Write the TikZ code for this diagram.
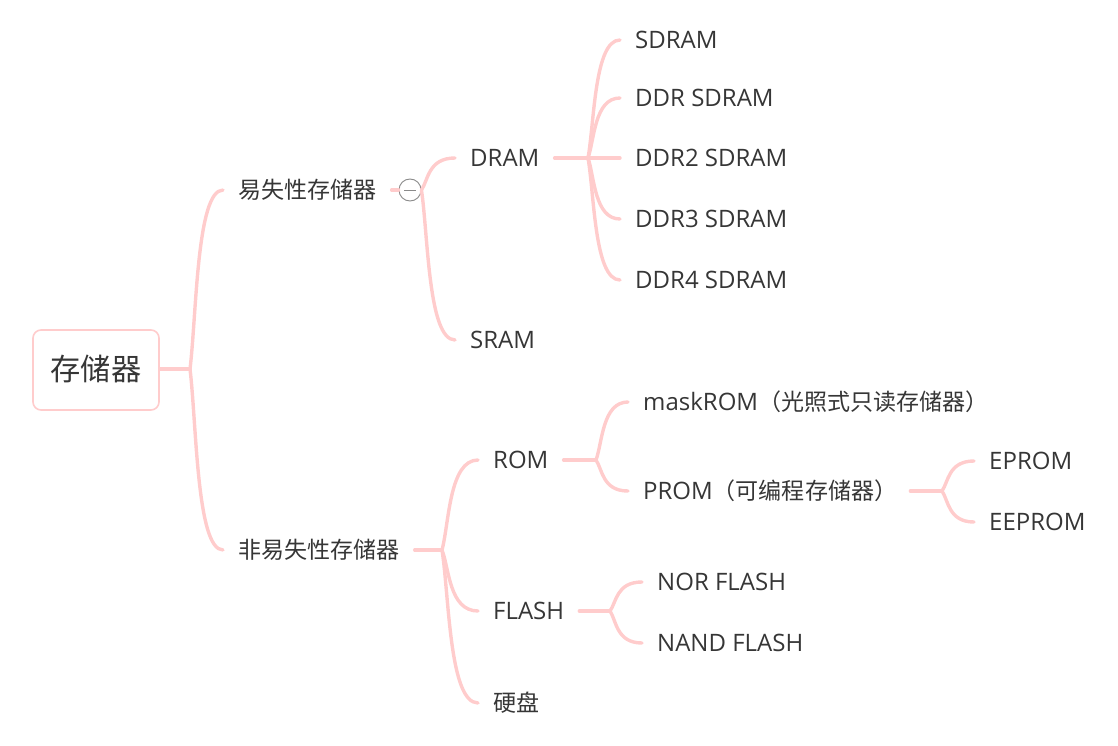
\documentclass[tikz,border=0pt]{standalone}
\usepackage{fontspec}
\setmainfont{Open Sans}
\newfontfamily\cjk{Noto Sans CJK SC}[Scale=0.96]
\usetikzlibrary{calc}
\definecolor{lnk}{HTML}{FFCCCC}
\definecolor{txt}{HTML}{363636}
\definecolor{icon}{HTML}{8A8A8A}
\tikzset{
  conn/.style={draw=lnk, line width=3.4pt, line cap=round},
  topic/.style={anchor=west, inner xsep=15pt, inner ysep=0pt, text=txt,
    font=\fontsize{24}{28}\selectfont, text height=17.2pt, text depth=0pt},
  rootbox/.style={draw=lnk, line width=1.6pt, rounded corners=8pt, fill=white,
    minimum width=126pt, minimum height=80pt, text=txt, inner sep=0pt,
    font=\cjk\fontsize{31.5}{36}\selectfont, text height=20.5pt, text depth=0pt},
  collapse/.style={circle, draw=icon, line width=0.9pt, fill=white, minimum size=22pt, inner sep=0pt}
}
\newcommand{\branch}[2]{%
  \draw[conn] let \p1=(#1), \p2=(#2) in
    (\p1) .. controls ({\x1+0.2*(\x2-\x1)}, {\y1+0.3*(\y2-\y1)}) and ({\x1+0.2*(\x2-\x1)}, \y2) .. (\p2);}
\begin{document}
\begin{tikzpicture}[x=1pt, y=-1pt]
\useasboundingbox (0,0) rectangle (1118,746);
% root
\node[rootbox] (root) at (96,370) {存储器};
\coordinate (f0) at (190,369);
\node[topic] (vol) at (223,190) {\cjk 易失性存储器};
\node[topic] (nvol) at (223,550) {\cjk 非易失性存储器};
\draw[conn] (root.east |- f0) -- (f0);
\branch{f0}{vol.west}
\branch{f0}{nvol.west}
% volatile
\node[collapse] (c1) at (410,190) {};
\draw[icon, line width=0.9pt] ($(c1.center)+(-6,0)$) -- ($(c1.center)+(6,0)$);
\draw[conn] (vol.east) -- (c1.west);
\node[topic] (dram) at (455,158) {DRAM};
\node[topic] (sram) at (455,340) {SRAM};
\branch{c1.east}{dram.west}
\branch{c1.east}{sram.west}
\coordinate (f2) at (588,158);
\draw[conn] (dram.east) -- (f2);
\node[topic] (sdram) at (620,40) {SDRAM};
\node[topic] (ddr) at (620,98) {DDR SDRAM};
\node[topic] (ddr2) at (620,158) {DDR2 SDRAM};
\node[topic] (ddr3) at (620,219) {DDR3 SDRAM};
\node[topic] (ddr4) at (620,280) {DDR4 SDRAM};
\branch{f2}{sdram.west}
\branch{f2}{ddr.west}
\branch{f2}{ddr2.west}
\branch{f2}{ddr3.west}
\branch{f2}{ddr4.west}
% non-volatile
\coordinate (f3) at (442,550);
\draw[conn] (nvol.east) -- (f3);
\node[topic] (rom) at (478,460) {ROM};
\node[topic] (flash) at (478,611) {FLASH};
\node[topic] (hdd) at (478,703) {\cjk 硬盘};
\branch{f3}{rom.west}
\branch{f3}{flash.west}
\branch{f3}{hdd.west}
% ROM
\coordinate (f4) at (596,460);
\draw[conn] (rom.east) -- (f4);
\node[topic] (mask) at (628,402) {maskROM{\cjk （光照式只读存储器）}};
\node[topic] (prom) at (628,491) {PROM{\cjk （可编程存储器）}};
\branch{f4}{mask.west}
\branch{f4}{prom.west}
% PROM
\coordinate (f5) at (942,491);
\draw[conn] ([xshift=-2pt]prom.east) -- (f5);
\node[topic] (eprom) at (974,461) {EPROM};
\node[topic] (eeprom) at (974,522) {EEPROM};
\branch{f5}{eprom.west}
\branch{f5}{eeprom.west}
% FLASH
\coordinate (f6) at (610,611);
\draw[conn] (flash.east) -- (f6);
\node[topic] (nor) at (642,582) {NOR FLASH};
\node[topic] (nand) at (642,643) {NAND FLASH};
\branch{f6}{nor.west}
\branch{f6}{nand.west}
\end{tikzpicture}
\end{document}
